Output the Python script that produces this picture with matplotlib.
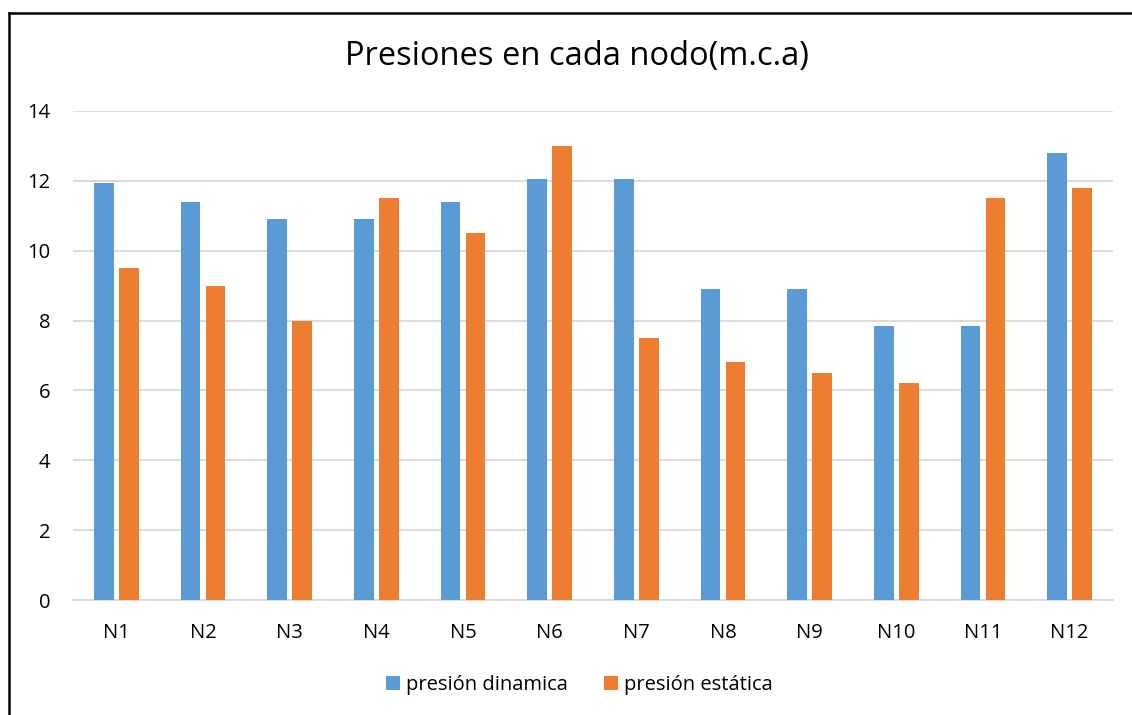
import matplotlib
matplotlib.use("Agg")
import matplotlib.pyplot as plt
import numpy as np
from matplotlib.lines import Line2D

categories = ["N1", "N2", "N3", "N4", "N5", "N6", "N7", "N8", "N9", "N10", "N11", "N12"]
presion_dinamica = [11.95, 11.4, 10.9, 10.9, 11.4, 12.05, 12.05, 8.9, 8.9, 7.85, 7.85, 12.8]
presion_estatica = [9.5, 9.0, 8.0, 11.5, 10.5, 13.0, 7.5, 6.8, 6.5, 6.2, 11.5, 11.8]
yticks = [0, 2, 4, 6, 8, 10, 12, 14]

plt.rcParams['font.family'] = ['Open Sans', 'DejaVu Sans']

W, H = 1132, 715
fig = plt.figure(figsize=(W / 100, H / 100), dpi=100)
ax = fig.add_axes([73 / W, 1 - 600 / H, (1113 - 73) / W, (600 - 111) / H])

x = np.arange(len(categories))
bw = 0.225
off = 0.144
ax.bar(x - off, presion_dinamica, bw, color="#5b9bd5", label="presión dinamica", zorder=3)
ax.bar(x + off, presion_estatica, bw, color="#ed7d31", label="presión estática", zorder=3)

ax.set_xlim(-0.5, len(categories) - 0.5)
ax.set_ylim(0, 14)
ax.set_yticks(yticks)
ax.set_xticks(x)
ax.set_xticklabels(categories)
ax.yaxis.grid(True, color="#d9d9d9", linewidth=1.3, zorder=0)
ax.set_axisbelow(True)
for s in ["top", "right", "left"]:
    ax.spines[s].set_visible(False)
ax.spines["bottom"].set_color("#d9d9d9")
ax.spines["bottom"].set_linewidth(1.3)
ax.tick_params(axis="both", length=0, labelsize=14.5, colors="#000000")
ax.tick_params(axis="y", pad=16.5)
ax.tick_params(axis="x", pad=16.5)

fig.text(576.5 / W, 1 - 57 / H, "Presiones en cada nodo(m.c.a)", ha="center", va="center", fontsize=23.5)

leg = fig.legend(loc="center", bbox_to_anchor=(579.5 / W, 1 - 685 / H), ncol=2, frameon=False,
                 fontsize=14.5, handlelength=0.7, handleheight=0.7, handletextpad=0.3, columnspacing=1.8)

# outer chart border: only top and left edges are visible
fig.add_artist(Line2D([8.5 / W, 1], [1 - 13 / H, 1 - 13 / H], transform=fig.transFigure,
                      color="black", linewidth=1.8))
fig.add_artist(Line2D([8.5 / W, 8.5 / W], [0, 1 - 13 / H], transform=fig.transFigure,
                      color="black", linewidth=1.8))

fig.savefig("out.png", dpi=100)
